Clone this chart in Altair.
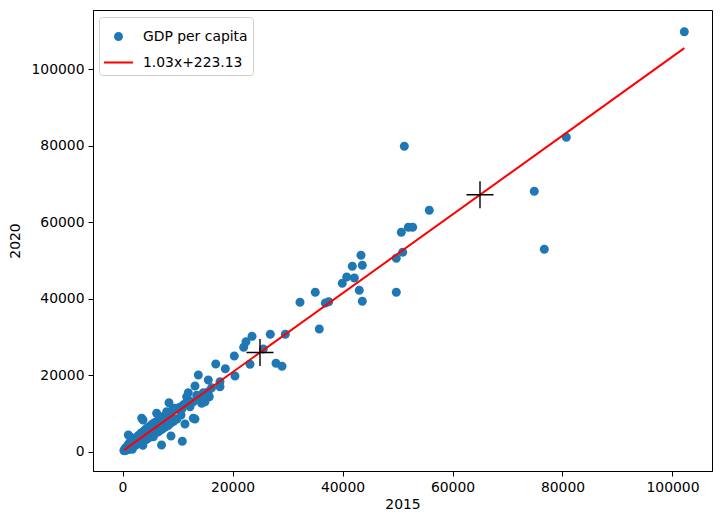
import altair as alt
import pandas as pd

# GDP per capita, 2015 (x) vs 2020 (y)
x2015 = [
    250, 400, 450, 550, 600, 700, 750, 850, 900, 950, 1000, 1100, 1150, 1200, 1300, 1350,
    1400, 1500, 1550, 1600, 1700, 1750, 1800, 1900, 2000, 2050, 2150, 2200, 2300, 2400,
    2500, 2600, 2700, 2800, 2900, 3000, 3100, 3200, 3300, 3400, 3500, 3600, 3800, 3900,
    4000, 4100, 4300, 4400, 4500, 4700, 4800, 5000, 5200, 5300, 5500, 5700, 5900, 6100,
    6300, 6500, 6700, 6900, 7100, 7300, 7500, 7800, 8000, 8300, 8500, 8800, 9000, 9300,
    9600, 9900, 10200,
    1050, 1490, 1780, 3700, 3790, 3490, 3730, 5000, 5600, 6210, 7100, 7420, 8030, 8450,
    8820, 10450, 10640, 10870, 11050, 11360, 13180, 12870,
    11670, 11960, 12270, 12870, 13180, 13790, 14090, 14390, 14690, 15000, 15600, 15600,
    15780, 16950, 17730, 17730, 12000, 13500, 10800, 11500, 9500, 16200,
    2600, 3400, 4600, 5800, 6800, 7700, 8900, 700, 1300, 1900,
    18700, 20330, 20450, 22030, 22450, 23180, 23550, 25600, 26870, 27910, 29000, 29600,
    32270, 35050, 35780, 36870, 37490, 39960, 40760, 41780, 42150, 43050, 43360, 43600,
    43600, 49780, 49780, 50690, 50940, 51240, 51970, 52760, 55780, 74870, 76690, 80690,
    102150,
]
y2020 = [
    400, 300, 900, 450, 1000, 600, 1300, 700, 1500, 600, 1800, 800, 2000, 900, 2400, 1000,
    2200, 1100, 2700, 1300, 2900, 1400, 2400, 1500, 3200, 1600, 3400, 1700, 3000, 1800,
    3700, 2000, 3900, 2200, 4300, 2300, 4100, 2600, 4800, 2700, 5000, 2900, 5300, 3000,
    5600, 3200, 6000, 3300, 6300, 3700, 6500, 3900, 7000, 4300, 7400, 4600, 7700, 5000,
    8000, 5300, 8500, 5700, 8700, 6100, 9300, 6500, 9800, 6900, 10300, 7600, 10800, 8000,
    11300, 8600, 11500,
    4440, 3840, 700, 1750, 3130, 8800, 8360, 4880, 4000, 10100, 1800, 9220, 10520, 12870,
    4180, 11670, 9660, 2790, 12270, 7310, 8620, 8800,
    14440, 15480, 11830, 13130, 17230, 20100, 14020, 12700, 15480, 13130, 15740, 18800,
    14440, 22980, 18360, 17050, 13500, 14800, 11200, 12800, 11400, 16800,
    2800, 3500, 4800, 6000, 7000, 7900, 9200, 800, 1400, 2000,
    21750, 25070, 19840, 27340, 28800, 22900, 30210, 26890, 30730, 23160, 22380, 30730,
    39090, 41700, 32110, 38900, 39240, 44040, 45690, 48480, 45430, 42210, 51350, 48740,
    39340, 50570, 41700, 57360, 52140, 79810, 58670, 58670, 63100, 68070, 52920, 82170,
    109740,
]
slope = 1.03
intercept = 223.13
cross_x = [25000, 65000]
series_names = ["GDP per capita", "1.03x+223.13"]
tick_values = [0, 20000, 40000, 60000, 80000, 100000]

pts = pd.DataFrame({"x": x2015, "y": y2020, "series": series_names[0]})
line_x = [min(x2015), max(x2015)]
fit = pd.DataFrame({"x": line_x, "y": [slope * v + intercept for v in line_x]})
cross = pd.DataFrame({"x": cross_x, "y": [slope * v + intercept for v in cross_x]})

CIRCLE = "M-0.31,0A0.31,0.31 0 1,0 0.31,0A0.31,0.31 0 1,0 -0.31,0Z"
LINE = "M-1,-0.07L1,-0.07L1,0.07L-1,0.07Z"
PLUS = "M-1,0L1,0M0,-1L0,1"

xs = alt.Scale(domain=[-5364, 107182], nice=False, zero=False)
ys = alt.Scale(domain=[-4961, 115405], nice=False, zero=False)
xaxis = alt.Axis(title="2015", values=tick_values, format="d", grid=False, labelFlush=False)
yaxis = alt.Axis(title="2020", values=tick_values, format="d", grid=False, labelFlush=False)

legend = alt.Legend(
    title=None, orient="none", legendX=6, legendY=7, symbolSize=841,
    symbolStrokeWidth=0, padding=5, labelOffset=10, rowPadding=4,
    labelFont="DejaVu Sans", labelFontSize=13.9, labelColor="black",
    strokeColor="#d0d0d0", fillColor="rgba(255,255,255,0.8)", cornerRadius=3,
)

scatter = alt.Chart(pts).mark_point(filled=True, size=841, opacity=1, strokeWidth=0).encode(
    x=alt.X("x:Q", scale=xs, axis=xaxis),
    y=alt.Y("y:Q", scale=ys, axis=yaxis),
    color=alt.Color("series:N", scale=alt.Scale(domain=series_names, range=["#1f77b4", "#ff0000"]), legend=legend),
    shape=alt.Shape("series:N", scale=alt.Scale(domain=series_names, range=[CIRCLE, LINE]), legend=legend),
)

line = alt.Chart(fit).mark_line(color="#ff0000", strokeWidth=2).encode(
    x=alt.X("x:Q", scale=xs), y=alt.Y("y:Q", scale=ys)
)

plus = alt.Chart(cross).mark_point(shape=PLUS, size=729, filled=False, color="black",
                                   strokeWidth=1.4, opacity=1).encode(
    x=alt.X("x:Q", scale=xs), y=alt.Y("y:Q", scale=ys)
)

chart = alt.layer(scatter, line, plus).properties(
    width=619, height=461,
    autosize=alt.AutoSizeParams(type="none"),
    padding={"left": 85, "top": 2, "right": 2, "bottom": 46},
).configure_view(stroke="black", strokeWidth=1).configure_axis(
    labelFont="DejaVu Sans", labelFontSize=13.9, labelColor="black",
    titleFont="DejaVu Sans", titleFontSize=13.9, titleFontWeight="normal", titleColor="black",
    tickColor="black", tickSize=5, tickWidth=1, domainColor="black", domainWidth=1,
    labelPadding=4,
).configure_axisX(titlePadding=4).configure_axisY(titlePadding=8)

chart.save("out.html", embed_options={"renderer": "svg", "actions": False})
